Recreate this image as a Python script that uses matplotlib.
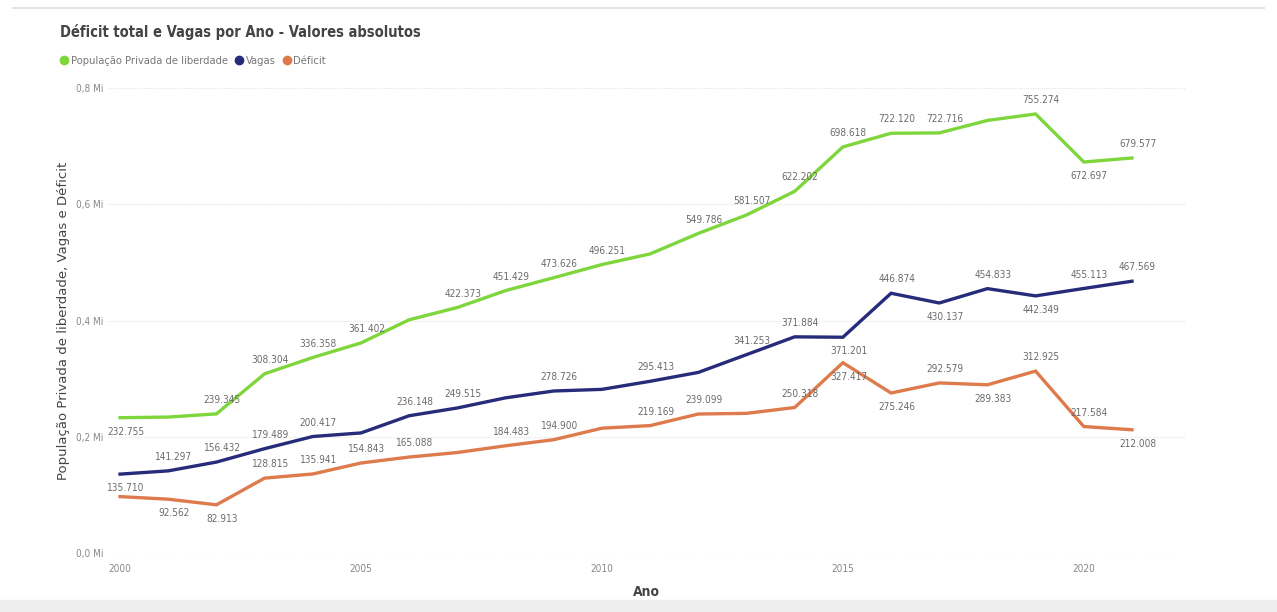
import matplotlib
matplotlib.use("Agg")
import matplotlib.pyplot as plt
from matplotlib.lines import Line2D

# Data
anos = list(range(2000, 2022))
populacao = [232755, 233859, 239345, 308304, 336358, 361402, 401236, 422373, 451429, 473626, 496251,
             514582, 549786, 581507, 622202, 698618, 722120, 722716, 744216, 755274, 672697, 679577]
vagas = [135710, 141297, 156432, 179489, 200417, 206559, 236148, 249515, 266946, 278726, 281520,
         295413, 310687, 341253, 371884, 371201, 446874, 430137, 454833, 442349, 455113, 467569]
deficit = [p - v for p, v in zip(populacao, vagas)]
y_ticks = [0, 200000, 400000, 600000, 800000]
y_tick_labels = ["0,0 Mi", "0,2 Mi", "0,4 Mi", "0,6 Mi", "0,8 Mi"]

# label placement (a = above, b = below, None = hidden like in Power BI)
pos_pop = ['b', None, 'a', 'a', 'a', 'a', None, 'a', 'a', 'a', 'a', None, 'a', 'a', 'a', 'a', 'a', 'a', None, 'a', 'b', 'a']
pos_vag = ['b', 'a', 'a', 'a', 'a', None, 'a', 'a', None, 'a', None, 'a', None, 'a', 'a', 'b', 'a', 'b', 'a', 'b', 'a', 'a']
pos_def = [None, 'b', 'b', 'a', 'a', 'a', 'a', None, 'a', 'a', None, 'a', 'a', None, 'a', 'b', 'b', 'a', 'b', 'a', 'a', 'b']

c_pop = "#7ED63C"
c_vag = "#262B7A"
c_def = "#DE7B4C"
plt.rcParams['font.family'] = ['DejaVu Sans']
plt.rcParams['font.stretch'] = 'condensed'

W, H = 1277, 612
fig = plt.figure(figsize=(W / 100, H / 100), dpi=100)
ax = fig.add_axes([108 / W, (H - 553) / H, (1185 - 108) / W, (553 - 88) / H])

for vals, col, pos in [(populacao, c_pop, pos_pop), (vagas, c_vag, pos_vag), (deficit, c_def, pos_def)]:
    ax.plot(anos, vals, color=col, lw=2.4, solid_joinstyle='miter', zorder=3)
    for x, v, p in zip(anos, vals, pos):
        if p is None:
            continue
        dy = 10 if p == 'a' else -10
        ax.annotate(f"{v:,}".replace(",", "."), (x, v), xytext=(4, dy), textcoords="offset points",
                    ha="center", va="center", fontsize=7.2, color="#6b6b6b", zorder=4)

ax.set_xlim(1999.75, 2022.1)
ax.set_ylim(0, 800000)
ax.set_yticks(y_ticks)
ax.set_yticklabels(y_tick_labels)
ax.set_xticks([2000, 2005, 2010, 2015, 2020])
ax.tick_params(length=0, labelsize=7.2, labelcolor="#888888")
ax.tick_params(axis='x', pad=8)
ax.grid(axis='y', color="#e6e6e6", lw=0.8, ls=(0, (1, 1)))
for s in ax.spines.values():
    s.set_visible(False)
ax.set_xlabel("Ano", fontsize=10, color="#444444", fontweight="bold", labelpad=8)
ax.set_ylabel("População Privada de liberdade, Vagas e Déficit", fontsize=9.5, color="#444444",
              fontstretch="normal", labelpad=4)

fig.text(60 / W, 1 - 32 / H, "Déficit total e Vagas por Ano - Valores absolutos", fontsize=10.5,
         color="#444444", fontweight="bold", va="center")
handles = [Line2D([], [], ls='none', marker='o', ms=6, color=c) for c in (c_pop, c_vag, c_def)]
fig.legend(handles, ["População Privada de liberdade", "Vagas", "Déficit"], loc="center left",
           bbox_to_anchor=(52 / W, 1 - 61 / H), ncol=3, frameon=False, fontsize=8, labelcolor="#777777",
           handletextpad=0.0, columnspacing=0.4, handlelength=1.2, borderpad=0)

fig.add_artist(Line2D([0.01, 0.99], [1 - 8 / H, 1 - 8 / H], color="#e4e4e4", lw=1.5))
fig.patches.append(plt.Rectangle((0, 0), 1, 12 / H, transform=fig.transFigure, color="#eeeeee", zorder=0))

fig.savefig("out.png", dpi=100)
